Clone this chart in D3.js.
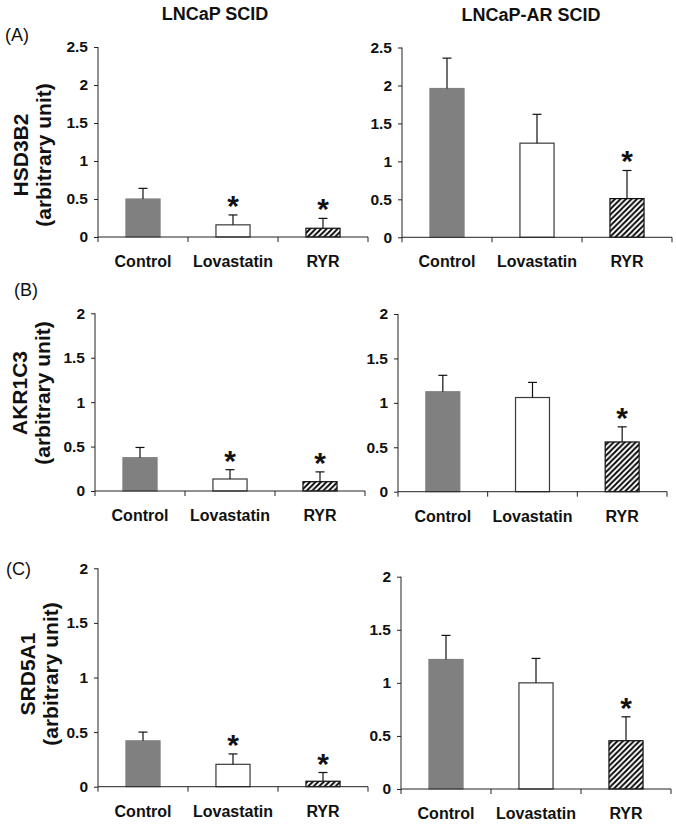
<!DOCTYPE html>
<html>
<head>
<meta charset="utf-8">
<script src="https://cdn.jsdelivr.net/npm/d3@7"></script>
<style>
  html, body { margin: 0; padding: 0; background: #fff; }
  svg { display: block; font-family: "Liberation Sans", Arial, sans-serif; }
</style>
</head>
<body>
<svg id="chart" width="676" height="825"></svg>
<script>
// ---------- DATA ----------
const categories = ["Control", "Lovastatin", "RYR"];
const genes = ["HSD3B2", "AKR1C3", "SRD5A1"];
const panelLabels = ["(A)", "(B)", "(C)"];
const modelTitles = ["LNCaP SCID", "LNCaP-AR SCID"];
const yMaxByGene = [2.5, 2, 2];
const yTicksByGene = [[0, 0.5, 1, 1.5, 2, 2.5], [0, 0.5, 1, 1.5, 2], [0, 0.5, 1, 1.5, 2]];

const hsd3b2LNCaP = [0.50, 0.16, 0.115];
const hsd3b2LNCaPErr = [0.14, 0.13, 0.13];
const hsd3b2LNCaPSig = [false, true, true];
const hsd3b2LNCaPAR = [1.96, 1.24, 0.51];
const hsd3b2LNCaPARErr = [0.40, 0.38, 0.37];
const hsd3b2LNCaPARSig = [false, false, true];

const akr1c3LNCaP = [0.375, 0.135, 0.105];
const akr1c3LNCaPErr = [0.115, 0.105, 0.11];
const akr1c3LNCaPSig = [false, true, true];
const akr1c3LNCaPAR = [1.125, 1.06, 0.56];
const akr1c3LNCaPARErr = [0.185, 0.17, 0.17];
const akr1c3LNCaPARSig = [false, false, true];

const srd5a1LNCaP = [0.42, 0.205, 0.05];
const srd5a1LNCaPErr = [0.08, 0.095, 0.08];
const srd5a1LNCaPSig = [false, true, true];
const srd5a1LNCaPAR = [1.22, 1.0, 0.455];
const srd5a1LNCaPARErr = [0.227, 0.23, 0.225];
const srd5a1LNCaPARSig = [false, false, true];

const seriesByGene = [
  [[hsd3b2LNCaP, hsd3b2LNCaPErr, hsd3b2LNCaPSig], [hsd3b2LNCaPAR, hsd3b2LNCaPARErr, hsd3b2LNCaPARSig]],
  [[akr1c3LNCaP, akr1c3LNCaPErr, akr1c3LNCaPSig], [akr1c3LNCaPAR, akr1c3LNCaPARErr, akr1c3LNCaPARSig]],
  [[srd5a1LNCaP, srd5a1LNCaPErr, srd5a1LNCaPSig], [srd5a1LNCaPAR, srd5a1LNCaPARErr, srd5a1LNCaPARSig]]
];

// ---------- LAYOUT ----------
const frames = [
  [{x0: 98, x1: 368, yTop: 47, yBot: 237}, {x0: 402, x1: 672, yTop: 47.5, yBot: 237.3}],
  [{x0: 95, x1: 365, yTop: 313.3, yBot: 491}, {x0: 398, x1: 667, yTop: 314, yBot: 491.7}],
  [{x0: 98, x1: 368, yTop: 568.3, yBot: 786.7}, {x0: 401, x1: 671, yTop: 576.7, yBot: 789}]
];
const yTitlePos = [
  {x1: 28, x2: 51, y: 155},
  {x1: 27, x2: 50, y: 393},
  {x1: 35, x2: 58, y: 674}
];
const panelLabelPos = [{x: 5, y: 41}, {x: 14, y: 296}, {x: 6, y: 575}];
const titlePos = [{x: 215, y: 20}, {x: 531, y: 21}];

const svg = d3.select("#chart");
const defs = svg.append("defs");
const hatch = defs.append("pattern")
  .attr("id", "hatch")
  .attr("patternUnits", "userSpaceOnUse")
  .attr("width", 5.5).attr("height", 5.5);
hatch.append("rect").attr("width", 5.5).attr("height", 5.5).attr("fill", "#fff");
hatch.append("path")
  .attr("d", "M-1.4,1.4 L1.4,-1.4 M0,5.5 L5.5,0 M4.1,6.9 L6.9,4.1")
  .attr("stroke", "#000").attr("stroke-width", 1.8);

const fills = ["#808080", "#ffffff", "url(#hatch)"];
const strokes = ["#808080", "#3a3a3a", "#111"];
const axisColor = "#222";

// Column titles
modelTitles.forEach((t, i) => {
  svg.append("text")
    .attr("x", titlePos[i].x).attr("y", titlePos[i].y)
    .attr("text-anchor", "middle")
    .attr("font-size", 18).attr("font-weight", "bold")
    .attr("fill", "#111")
    .text(t);
});

genes.forEach((gene, gi) => {
  svg.append("text")
    .attr("x", panelLabelPos[gi].x).attr("y", panelLabelPos[gi].y)
    .attr("font-size", 18).attr("fill", "#111")
    .text(panelLabels[gi]);

  const yt = yTitlePos[gi];
  svg.append("text")
    .attr("transform", `translate(${yt.x1},${yt.y}) rotate(-90)`)
    .attr("text-anchor", "middle")
    .attr("font-size", 21).attr("font-weight", "bold").attr("fill", "#111")
    .text(gene);
  svg.append("text")
    .attr("transform", `translate(${yt.x2},${yt.y}) rotate(-90)`)
    .attr("text-anchor", "middle")
    .attr("font-size", 21).attr("font-weight", "bold").attr("fill", "#111")
    .text("(arbitrary unit)");

  frames[gi].forEach((f, mi) => {
    const [vals, errs, sig] = seriesByGene[gi][mi];
    const data = categories.map((c, k) => ({c, v: vals[k], e: errs[k], s: sig[k], k}));

    const x = d3.scaleBand().domain(categories).range([f.x0, f.x1])
      .paddingInner(0.61).paddingOuter(0.305);
    const y = d3.scaleLinear().domain([0, yMaxByGene[gi]]).range([f.yBot, f.yTop]);

    const g = svg.append("g");

    g.selectAll("rect.bar").data(data).join("rect")
      .attr("class", "bar")
      .attr("x", d => x(d.c) + 0.5)
      .attr("y", d => y(d.v))
      .attr("width", x.bandwidth() - 1)
      .attr("height", d => y(0) - y(d.v))
      .attr("fill", d => fills[d.k])
      .attr("stroke", d => strokes[d.k])
      .attr("stroke-width", 1.2);

    const cx = d => x(d.c) + x.bandwidth() / 2;
    g.selectAll("line.err").data(data).join("line")
      .attr("x1", cx).attr("x2", cx)
      .attr("y1", d => y(d.v)).attr("y2", d => y(d.v + d.e))
      .attr("stroke", "#111").attr("stroke-width", 1.2);
    g.selectAll("line.cap").data(data).join("line")
      .attr("x1", d => cx(d) - 4.5).attr("x2", d => cx(d) + 4.5)
      .attr("y1", d => y(d.v + d.e)).attr("y2", d => y(d.v + d.e))
      .attr("stroke", "#111").attr("stroke-width", 1.2);

    g.selectAll("text.star").data(data.filter(d => d.s)).join("text")
      .attr("x", cx)
      .attr("y", d => y(d.v + d.e) + 1)
      .attr("text-anchor", "middle")
      .attr("font-size", 30).attr("font-weight", "bold").attr("fill", "#111")
      .text("*");

    const yAxis = d3.axisLeft(y).tickValues(yTicksByGene[gi])
      .tickFormat(d3.format("~g")).tickSize(4).tickPadding(6).tickSizeOuter(0);
    const ya = svg.append("g").attr("transform", `translate(${f.x0},0)`).call(yAxis);
    ya.select(".domain").attr("stroke", axisColor).attr("d", `M0,${f.yTop}V${f.yBot + 5}`);
    ya.selectAll(".tick line").attr("stroke", axisColor);
    ya.selectAll(".tick text")
      .attr("font-size", 15.5).attr("font-weight", "bold").attr("fill", "#111")
      .attr("font-family", "Liberation Sans, Arial, sans-serif");

    const step = x.step();
    const bounds = d3.range(categories.length + 1).map(i => f.x0 + i * step);
    svg.append("line")
      .attr("x1", f.x0).attr("x2", f.x1)
      .attr("y1", f.yBot).attr("y2", f.yBot)
      .attr("stroke", axisColor).attr("stroke-width", 1);
    svg.selectAll(null).data(bounds.slice(1)).join("line")
      .attr("x1", d => d).attr("x2", d => d)
      .attr("y1", f.yBot).attr("y2", f.yBot + 5)
      .attr("stroke", axisColor).attr("stroke-width", 1);

    svg.selectAll(null).data(categories).join("text")
      .attr("x", d => x(d) + x.bandwidth() / 2)
      .attr("y", f.yBot + 30)
      .attr("text-anchor", "middle")
      .attr("font-size", 16).attr("font-weight", "bold").attr("fill", "#111")
      .text(d => d);
  });
});
</script>
</body>
</html>
